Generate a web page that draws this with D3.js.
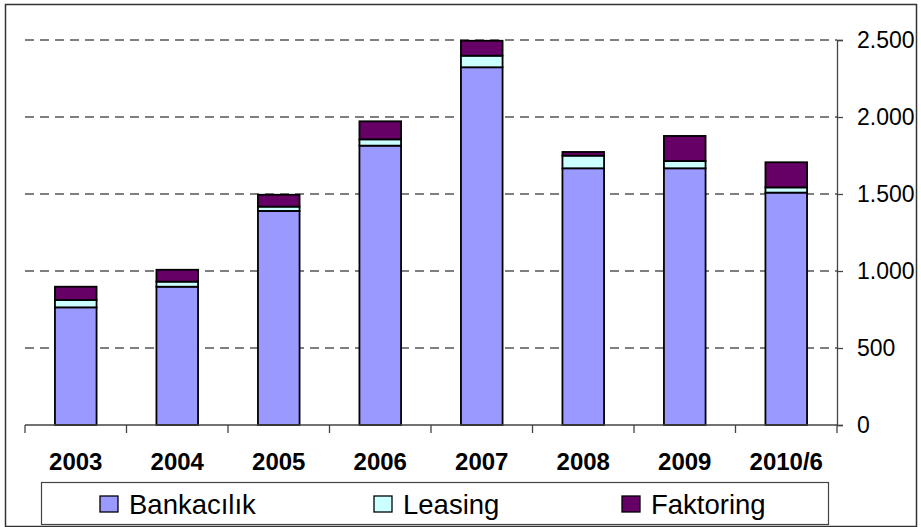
<!DOCTYPE html>
<html>
<head>
<meta charset="utf-8">
<script src="https://cdn.jsdelivr.net/npm/d3@7"></script>
<style>
  body { margin: 0; background: #fff; }
  svg { display: block; font-family: "Liberation Sans", Arial, sans-serif; }
</style>
</head>
<body>
<script>
const years = ["2003", "2004", "2005", "2006", "2007", "2008", "2009", "2010/6"]
const bankacilik = [764, 898, 1390, 1814, 2323, 1667, 1667, 1509]
const leasing = [48, 33, 28, 41, 75, 82, 47, 34]
const faktoring = [86, 77, 77, 117, 97, 24, 163, 163]
const yTicks = [0, 500, 1000, 1500, 2000, 2500]

const seriesNames = ["Bankacılık", "Leasing", "Faktoring"]
const colors = ["#9999ff", "#ccffff", "#660066"]

const width = 921
const height = 527
const margin = {left: 25, right: 84, top: 40, bottom: 102}

const svg = d3.select("body").append("svg")
    .attr("width", width)
    .attr("height", height)

// outer frame
svg.append("rect")
    .attr("x", 5.5).attr("y", 4.5)
    .attr("width", 911).attr("height", 522)
    .attr("fill", "none")
    .attr("stroke", "#333")
    .attr("stroke-width", 1.5)

const table = years.map((y, i) => ({
    year: y,
    "Bankacılık": bankacilik[i],
    "Leasing": leasing[i],
    "Faktoring": faktoring[i]
}))

const stacked = d3.stack().keys(seriesNames)(table)

const x = d3.scaleBand()
    .domain(years)
    .range([margin.left, width - margin.right])
    .paddingInner(0.59)
    .paddingOuter(0.295)

const y = d3.scaleLinear()
    .domain([0, 2500])
    .range([height - margin.bottom, margin.top])

const x0 = margin.left
const x1 = width - margin.right

// dashed grid
svg.append("g")
    .selectAll("line")
    .data(yTicks.filter(d => d > 0))
    .enter()
    .append("line")
    .attr("x1", x0).attr("x2", x1)
    .attr("y1", d => y(d)).attr("y2", d => y(d))
    .attr("stroke", "#555")
    .attr("stroke-width", 1.3)
    .attr("stroke-dasharray", "9,6")

// bars
svg.append("g")
    .selectAll("g")
    .data(stacked)
    .enter()
    .append("g")
    .attr("fill", (d, i) => colors[i])
    .selectAll("rect")
    .data(d => d)
    .enter()
    .append("rect")
    .attr("x", d => x(d.data.year))
    .attr("width", x.bandwidth())
    .attr("y", d => y(d[1]))
    .attr("height", d => y(d[0]) - y(d[1]))
    .attr("stroke", "#000")
    .attr("stroke-width", 1.8)

// bottom axis
const band = (x1 - x0) / years.length
const xAxis = svg.append("g")
xAxis.append("line")
    .attr("x1", x0).attr("x2", x1)
    .attr("y1", y(0)).attr("y2", y(0))
    .attr("stroke", "#444").attr("stroke-width", 1.3)
xAxis.selectAll("line.tick")
    .data(d3.range(years.length + 1))
    .enter()
    .append("line")
    .attr("class", "tick")
    .attr("x1", i => x0 + i * band).attr("x2", i => x0 + i * band)
    .attr("y1", y(0)).attr("y2", y(0) + 8)
    .attr("stroke", "#444").attr("stroke-width", 1.3)
xAxis.selectAll("text")
    .data(years)
    .enter()
    .append("text")
    .attr("x", d => x(d) + x.bandwidth() / 2)
    .attr("y", y(0) + 45)
    .attr("text-anchor", "middle")
    .attr("font-size", 24)
    .attr("font-weight", "bold")
    .attr("fill", "#000")
    .text(d => d)

// right axis
const yAxis = svg.append("g")
    .attr("transform", `translate(${x1},0)`)
    .call(d3.axisRight(y)
        .tickValues(yTicks)
        .tickSize(6)
        .tickPadding(14)
        .tickFormat(d => d3.format(",")(d).replace(/,/g, ".")))
yAxis.select(".domain").attr("stroke", "#444").attr("stroke-width", 1.3)
yAxis.selectAll(".tick line").attr("stroke", "#444").attr("stroke-width", 1.3)
yAxis.selectAll(".tick text")
    .attr("font-size", 23)
    .attr("font-family", "'Liberation Sans', Arial, sans-serif")
    .attr("fill", "#000")

// legend
const legend = svg.append("g")
legend.append("rect")
    .attr("x", 41.5).attr("y", 482.5)
    .attr("width", 787).attr("height", 42)
    .attr("fill", "#fff")
    .attr("stroke", "#444")
    .attr("stroke-width", 1.2)
const legendX = [100, 374, 622]
const item = legend.selectAll("g.item")
    .data(seriesNames)
    .enter()
    .append("g")
    .attr("class", "item")
    .attr("transform", (d, i) => `translate(${legendX[i]},496)`)
item.append("rect")
    .attr("width", 18).attr("height", 16)
    .attr("fill", (d, i) => colors[i])
    .attr("stroke", "#000")
    .attr("stroke-width", 1.3)
item.append("text")
    .attr("x", 29)
    .attr("y", 18)
    .attr("font-size", 27.5)
    .attr("fill", "#000")
    .text(d => d)
</script>
</body>
</html>
